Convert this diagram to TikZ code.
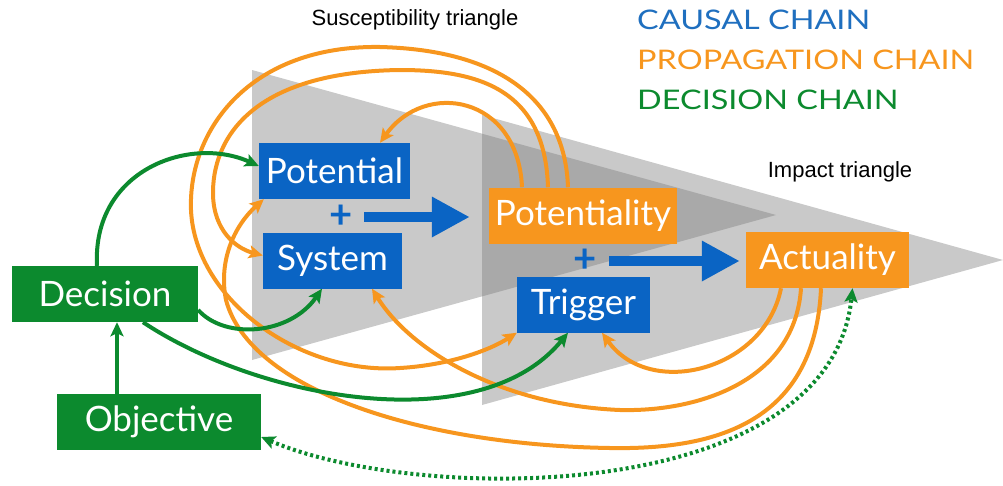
\documentclass[tikz,border=0pt]{standalone}
\usepackage{fontspec}
\setmainfont{Liberation Sans}
\newfontfamily\gill{Lato}
\usetikzlibrary{arrows.meta,calc}
\definecolor{cblue}{HTML}{0A64C4}
\definecolor{lblue}{HTML}{1F6FBF}
\definecolor{corange}{HTML}{F7961E}
\definecolor{cgreen}{HTML}{0C8A2E}
\definecolor{trilight}{HTML}{C9C9C9}
\definecolor{tridark}{HTML}{A9A9A9}
\newcommand\widecaps[1]{\scalebox{1.2}[1]{#1}}
\begin{document}
\begin{tikzpicture}[x=1pt,y=-1pt,
  boxlabel/.style={inner sep=0pt, text=white, font=\gill\fontsize{35}{40}\selectfont, minimum height=56pt},
  bluebox/.style={boxlabel, fill=cblue},
  orangebox/.style={boxlabel, fill=corange},
  greenbox/.style={boxlabel, fill=cgreen},
  plussign/.style={inner sep=0pt, text=cblue, font=\gill\bfseries\fontsize{40}{40}\selectfont},
  bigarrow/.style={draw=cblue, line width=10pt, -{Triangle[length=38pt,width=38pt]}},
  tip/.style={-{Stealth[length=14pt,width=13pt,inset=3pt]}},
  prop/.style={draw=corange, line width=4pt, tip},
  deci/.style={draw=cgreen, line width=4pt, tip},
  legend/.style={anchor=base west, inner sep=0pt, font=\gill\fontsize{27}{30}\selectfont},
  title/.style={inner sep=0pt, font=\fontsize{22}{24}\selectfont}
]
\useasboundingbox (0,0) rectangle (1003,485);
% triangles
\fill[trilight] (252,70) -- (776,215) -- (252,360) -- cycle;
\fill[trilight] (482,115) -- (1003,260) -- (482,405) -- cycle;
\fill[tridark] (482,133.7) -- (776,215) -- (482,296.4) -- cycle;
% titles and legend
\node[title] (tsus) at (415,20) {Susceptibility triangle};
\node[title] (timp) at (840,172) {Impact triangle};
\node[legend, text=lblue] (lg1) at (637,29) {\widecaps{CAUSAL CHAIN}};
\node[legend, text=corange] (lg2) at (637,69) {\widecaps{PROPAGATION CHAIN}};
\node[legend, text=cgreen] (lg3) at (637,109) {\widecaps{DECISION CHAIN}};
% boxes
\node[bluebox, minimum width=151pt] (pot) at (334.5,171) {Potential};
\node[bluebox, minimum width=139pt] (sys) at (332.5,260.5) {System};
\node[orangebox, minimum width=188pt] (ptl) at (583,215.5) {Potentiality};
\node[bluebox, minimum width=133pt] (trg) at (583.5,304.5) {Trigger};
\node[orangebox, minimum width=163pt] (act) at (827.5,260) {Actuality};
\node[greenbox, minimum width=186pt] (dec) at (105,294) {Decision};
\node[greenbox, minimum width=204pt] (obj) at (159,422) {Objective};
\node[plussign] (plus1) at (341,217) {+};
\node[plussign] (plus2) at (585,261) {+};
% causal arrows
\draw[bigarrow, shorten <=23pt, shorten >=19pt] (plus1.center) -- (plus1.center -| ptl.west);
\draw[bigarrow, shorten <=24pt, shorten >=6pt] (plus2.center) -- (plus2.center -| act.west);
% propagation chain
\draw[prop] ([xshift=-61pt]ptl.north) .. controls (518,95) and (425,80) .. ([xshift=45.5pt]pot.north);
\draw[prop] ([xshift=-35pt]ptl.north) .. controls (545,90) and (480,70) .. (400,70)
  .. controls (250,72) and (212,140) .. (213,195)
  .. controls (214,230) and (235,248) .. ([yshift=5pt]sys.west);
\draw[prop] ([xshift=-15pt]ptl.north) .. controls (565,100) and (500,50) .. (380,47)
  .. controls (250,45) and (188,130) .. (191,210)
  .. controls (195,300) and (300,375) .. (400,368)
  .. controls (450,365) and (490,350) .. (trg.south west);
\draw[prop] ([xshift=-46.5pt]act.south) .. controls (765,370) and (650,400) .. ([xshift=18.5pt]trg.south);
\draw[prop] ([xshift=-26.5pt]act.south) .. controls (795,380) and (700,412) .. (620,410)
  .. controls (500,405) and (410,350) .. ([xshift=39.5pt]sys.south);
\draw[prop] ([xshift=-6.5pt]act.south) .. controls (815,420) and (720,450) .. (610,448)
  .. controls (420,445) and (250,390) .. (226,300)
  .. controls (218,260) and (235,225) .. ([xshift=5pt]pot.south west);
% decision chain
\draw[deci] ([xshift=-8pt]dec.north) .. controls (92,170) and (190,135) .. ([yshift=5pt]pot.west);
\draw[deci] ([yshift=-16pt]dec.east) .. controls (225,340) and (290,335) .. ([xshift=-10.5pt]sys.south);
\draw[deci] ([xshift=38pt]dec.south) .. controls (260,400) and (480,440) .. ([xshift=-15.5pt]trg.south);
\draw[deci] ([xshift=-42pt]obj.north) -- ([xshift=12pt]dec.south);
\draw[deci, {Stealth[length=14pt,width=13pt,inset=3pt]}-{Stealth[length=14pt,width=13pt,inset=3pt]}, dash pattern=on 3pt off 3pt] ([yshift=-15pt]obj.east) .. controls (420,505) and (830,505) .. ([xshift=25pt]act.south);
\end{tikzpicture}
\end{document}
